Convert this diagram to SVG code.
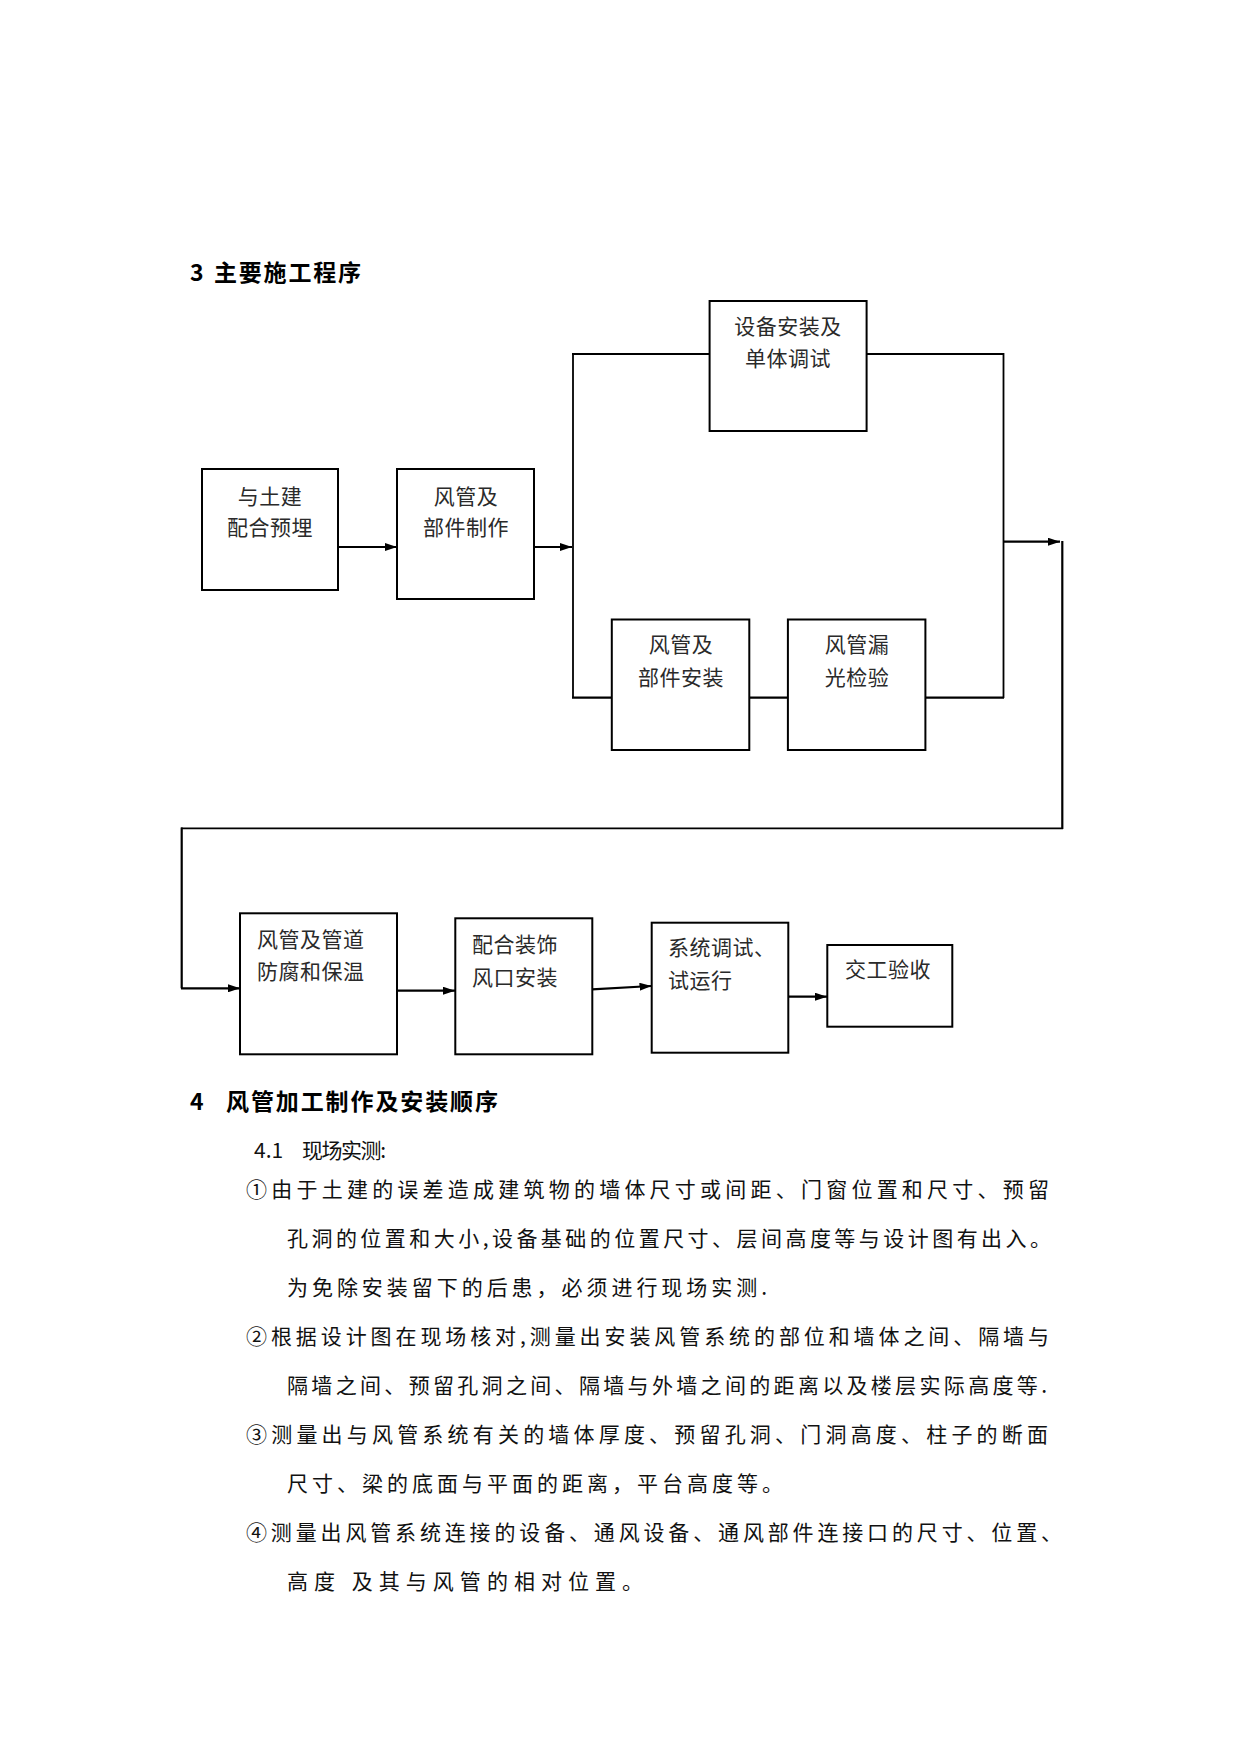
<svg xmlns="http://www.w3.org/2000/svg" width="1241" height="1754" viewBox="0 0 1241 1754">
<style>
.box{fill:#fff;stroke:#000;stroke-width:2}
.ln{fill:none;stroke:#000;stroke-width:1.8}
.ar{fill:none;stroke:#000;stroke-width:2.2}
.bt{font-family:"Noto Sans CJK SC","Noto Sans",sans-serif;font-size:21px;fill:#2a2a2a;letter-spacing:0.5px}
.c{text-anchor:middle}
.h{font-family:"Noto Sans CJK SC","Noto Sans",sans-serif;font-size:23px;font-weight:bold;fill:#000}
.p{font-family:"Noto Sans CJK SC","Noto Sans",sans-serif;font-size:21px;fill:#111}
</style>
<defs>
<marker id="ah" viewBox="0 0 12 8" refX="12" refY="4" markerWidth="12" markerHeight="8" markerUnits="userSpaceOnUse" orient="auto">
<path d="M0,0 L12,4 L0,8 Z" fill="#000"/>
</marker>
</defs>
<rect width="1241" height="1754" fill="#fff"/>

<text class="h" x="190" y="281">3</text>
<text class="h" x="214" y="281" textLength="147" lengthAdjust="spacing">主要施工程序</text>

<g id="connectors">
<line class="ar" x1="338" y1="547" x2="397" y2="547" marker-end="url(#ah)"/>
<line class="ar" x1="534" y1="547" x2="572" y2="547" marker-end="url(#ah)"/>
<line class="ln" x1="573" y1="354" x2="573" y2="698"/>
<line class="ln" x1="572" y1="354" x2="710" y2="354"/>
<line class="ln" x1="866" y1="354" x2="1004" y2="354"/>
<line class="ln" x1="1003.5" y1="353" x2="1003.5" y2="698"/>
<line class="ar" x1="572" y1="697.7" x2="612" y2="697.7"/>
<line class="ar" x1="749" y1="697.7" x2="788" y2="697.7"/>
<line class="ar" x1="925" y1="697.7" x2="1004" y2="697.7"/>
<line class="ar" x1="1003" y1="541.7" x2="1060" y2="541.7" marker-end="url(#ah)"/>
<line class="ar" x1="1062.3" y1="541" x2="1062.3" y2="829"/>
<line class="ln" x1="1063" y1="828.3" x2="181" y2="828.3"/>
<line class="ar" x1="181.7" y1="827.5" x2="181.7" y2="988.3"/>
<line class="ar" x1="181" y1="988.3" x2="240" y2="988.3" marker-end="url(#ah)"/>
<line class="ar" x1="397" y1="990.7" x2="455" y2="990.7" marker-end="url(#ah)"/>
<line class="ar" x1="592" y1="989.3" x2="651.5" y2="986" marker-end="url(#ah)"/>
<line class="ar" x1="788" y1="996.7" x2="827" y2="996.7" marker-end="url(#ah)"/>
</g>

<g id="n1"><rect class="box" x="202" y="469" width="136" height="121"/>
<text class="bt c" x="270" y="504">与土建</text><text class="bt c" x="270" y="535">配合预埋</text></g>
<g id="n2"><rect class="box" x="397" y="469" width="137" height="130"/>
<text class="bt c" x="466" y="504">风管及</text><text class="bt c" x="466" y="535">部件制作</text></g>
<g id="n3"><rect class="box" x="709.6" y="301" width="157" height="130"/>
<text class="bt c" x="788" y="334">设备安装及</text><text class="bt c" x="788" y="366">单体调试</text></g>
<g id="n4"><rect class="box" x="611.8" y="619.5" width="137.5" height="130.5"/>
<text class="bt c" x="681" y="652">风管及</text><text class="bt c" x="681" y="685">部件安装</text></g>
<g id="n5"><rect class="box" x="787.9" y="619.5" width="137.5" height="130.5"/>
<text class="bt c" x="857" y="652">风管漏</text><text class="bt c" x="857" y="685">光检验</text></g>
<g id="n6"><rect class="box" x="240" y="913.3" width="157" height="141"/>
<text class="bt" x="257" y="947">风管及管道</text><text class="bt" x="257" y="979">防腐和保温</text></g>
<g id="n7"><rect class="box" x="455.3" y="918.3" width="137" height="136"/>
<text class="bt" x="472" y="952">配合装饰</text><text class="bt" x="472" y="985">风口安装</text></g>
<g id="n8"><rect class="box" x="651.7" y="922.7" width="136.6" height="130"/>
<text class="bt" x="668" y="955">系统调试、</text><text class="bt" x="668" y="988">试运行</text></g>
<g id="n9"><rect class="box" x="827.3" y="945" width="125" height="81.7"/>
<text class="bt" x="845" y="977">交工验收</text></g>

<text class="h" x="190" y="1110">4</text>
<text class="h" x="226" y="1110" textLength="272" lengthAdjust="spacing">风管加工制作及安装顺序</text>
<text class="p" x="254" y="1158">4.1</text>
<text class="p" x="302" y="1158" textLength="84" lengthAdjust="spacing">现场实测:</text>
<text class="p" x="246" y="1197" textLength="803" lengthAdjust="spacing">①由于土建的误差造成建筑物的墙体尺寸或间距、门窗位置和尺寸、预留</text>
<text class="p" x="287" y="1246" textLength="764" lengthAdjust="spacing">孔洞的位置和大小,设备基础的位置尺寸、层间高度等与设计图有出入。</text>
<text class="p" x="287" y="1295" textLength="480" lengthAdjust="spacing">为免除安装留下的后患，必须进行现场实测.</text>
<text class="p" x="246" y="1344" textLength="803" lengthAdjust="spacing">②根据设计图在现场核对,测量出安装风管系统的部位和墙体之间、隔墙与</text>
<text class="p" x="287" y="1393" textLength="760" lengthAdjust="spacing">隔墙之间、预留孔洞之间、隔墙与外墙之间的距离以及楼层实际高度等.</text>
<text class="p" x="246" y="1442" textLength="802" lengthAdjust="spacing">③测量出与风管系统有关的墙体厚度、预留孔洞、门洞高度、柱子的断面</text>
<text class="p" x="287" y="1491" textLength="496" lengthAdjust="spacing">尺寸、梁的底面与平面的距离，平台高度等。</text>
<text class="p" x="246" y="1540" textLength="816" lengthAdjust="spacing">④测量出风管系统连接的设备、通风设备、通风部件连接口的尺寸、位置、</text>
<text class="p" x="287" y="1589" textLength="356" lengthAdjust="spacing">高度 及其与风管的相对位置。</text>
</svg>
